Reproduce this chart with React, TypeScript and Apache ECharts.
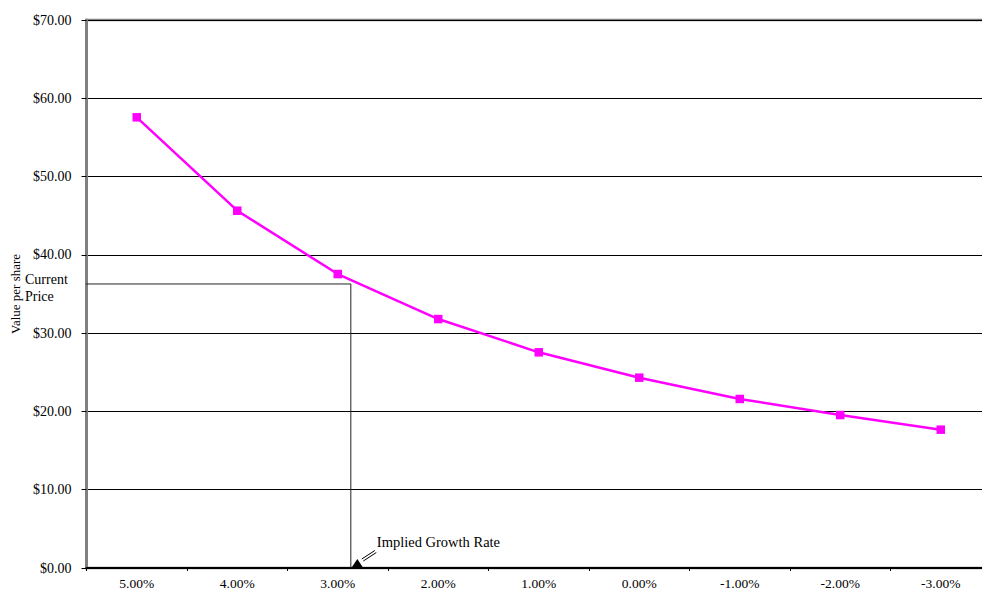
import React, { useEffect, useRef } from "react";
import * as echarts from "echarts";

const categories = ["5.00%", "4.00%", "3.00%", "2.00%", "1.00%", "0.00%", "-1.00%", "-2.00%", "-3.00%"];
const values = [57.57, 45.64, 37.55, 31.8, 27.55, 24.31, 21.59, 19.54, 17.67];
const currentPrice = 36.28;
const impliedGrowth = 2.87;
const priceLineStart = 5.575;
const yMin = 0;
const yMax = 70;
const yInterval = 10;

const FONT = "'Liberation Serif', 'Times New Roman', serif";

export default function App() {
  const ref = useRef<HTMLDivElement>(null);
  useEffect(() => {
    if (!ref.current) return;
    const chart = echarts.init(ref.current, undefined, { renderer: "svg" });
    chart.setOption({
      animation: false,
      backgroundColor: "#fff",
      grid: {
        left: 86.5,
        top: 20,
        width: 904.5,
        height: 548,
        containLabel: false,
        outerBoundsMode: "none",
        show: true,
        borderColor: "#808080",
        borderWidth: 2.5,
        backgroundColor: "transparent",
      },
      xAxis: [
        {
          type: "category",
          data: categories,
          boundaryGap: true,
          axisLine: { show: true, lineStyle: { color: "#000", width: 2 } },
          axisTick: { show: true, length: 3, lineStyle: { color: "#000" } },
          axisLabel: { color: "#000", fontFamily: FONT, fontSize: 13.5, margin: 8 },
          splitLine: { show: false },
        },
        {
          type: "value",
          min: -3.5,
          max: 5.5,
          inverse: true,
          show: false,
          axisLine: { onZero: false },
        },
      ],
      yAxis: {
        type: "value",
        min: yMin,
        max: yMax,
        interval: yInterval,
        name: "Value per share",
        nameLocation: "middle",
        nameRotate: 90,
        nameGap: 65,
        nameTextStyle: { color: "#000", fontFamily: FONT, fontSize: 13 },
        axisLine: { show: true, onZero: false, lineStyle: { color: "#808080", width: 3 } },
        axisTick: { show: true, length: 5, lineStyle: { color: "#000" } },
        axisLabel: {
          color: "#000",
          fontFamily: FONT,
          fontSize: 14,
          margin: 15,
          formatter: (v: number) => "$" + v.toFixed(2),
        },
        splitLine: { show: true, lineStyle: { color: "#000", width: 1 } },
      },
      series: [
        {
          type: "line",
          xAxisIndex: 1,
          data: [
            [priceLineStart, currentPrice],
            [impliedGrowth, currentPrice],
            [impliedGrowth, 0],
          ],
          symbol: "none",
          clip: false,
          lineStyle: { color: "#222", width: 1 },
          z: 1,
        },
        {
          type: "line",
          data: values,
          symbol: "rect",
          symbolSize: 8.5,
          itemStyle: { color: "#FF00FF" },
          lineStyle: { color: "#FF00FF", width: 2.5 },
          z: 3,
        },
      ],
    });

    const [px, py] = chart.convertToPixel({ xAxisIndex: 1, yAxisIndex: 0 }, [impliedGrowth, 0]) as number[];
    const [, priceY] = chart.convertToPixel({ xAxisIndex: 1, yAxisIndex: 0 }, [impliedGrowth, currentPrice]) as number[];

    chart.setOption({
      graphic: [
        {
          type: "text",
          left: 25,
          top: priceY - 13,
          style: {
            text: "Current\nPrice",
            font: `14px ${FONT}`,
            fill: "#000",
            lineHeight: 17,
          },
        },
        {
          type: "polygon",
          shape: { points: [[px + 6.5, py - 9], [px + 0.5, py], [px + 12.5, py]] },
          style: { fill: "#000" },
          z: 10,
        },
        {
          type: "line",
          shape: { x1: px + 11, y1: py - 9, x2: px + 24, y2: py - 17.5 },
          style: { stroke: "#000", lineWidth: 1 },
          z: 10,
        },
        {
          type: "line",
          shape: { x1: px + 12.5, y1: py - 7, x2: px + 25.5, y2: py - 15.5 },
          style: { stroke: "#000", lineWidth: 1 },
          z: 10,
        },
        {
          type: "text",
          x: px + 26,
          y: py - 26.5,
          style: {
            text: "Implied Growth Rate",
            font: `14.5px ${FONT}`,
            fill: "#000",
            verticalAlign: "middle",
            align: "left",
          },
          z: 10,
        },
      ],
    });

    return () => chart.dispose();
  }, []);
  return (
    <div
      ref={ref}
      style={{ position: "absolute", left: 0, top: 0, width: 982, height: 590 }}
    />
  );
}
